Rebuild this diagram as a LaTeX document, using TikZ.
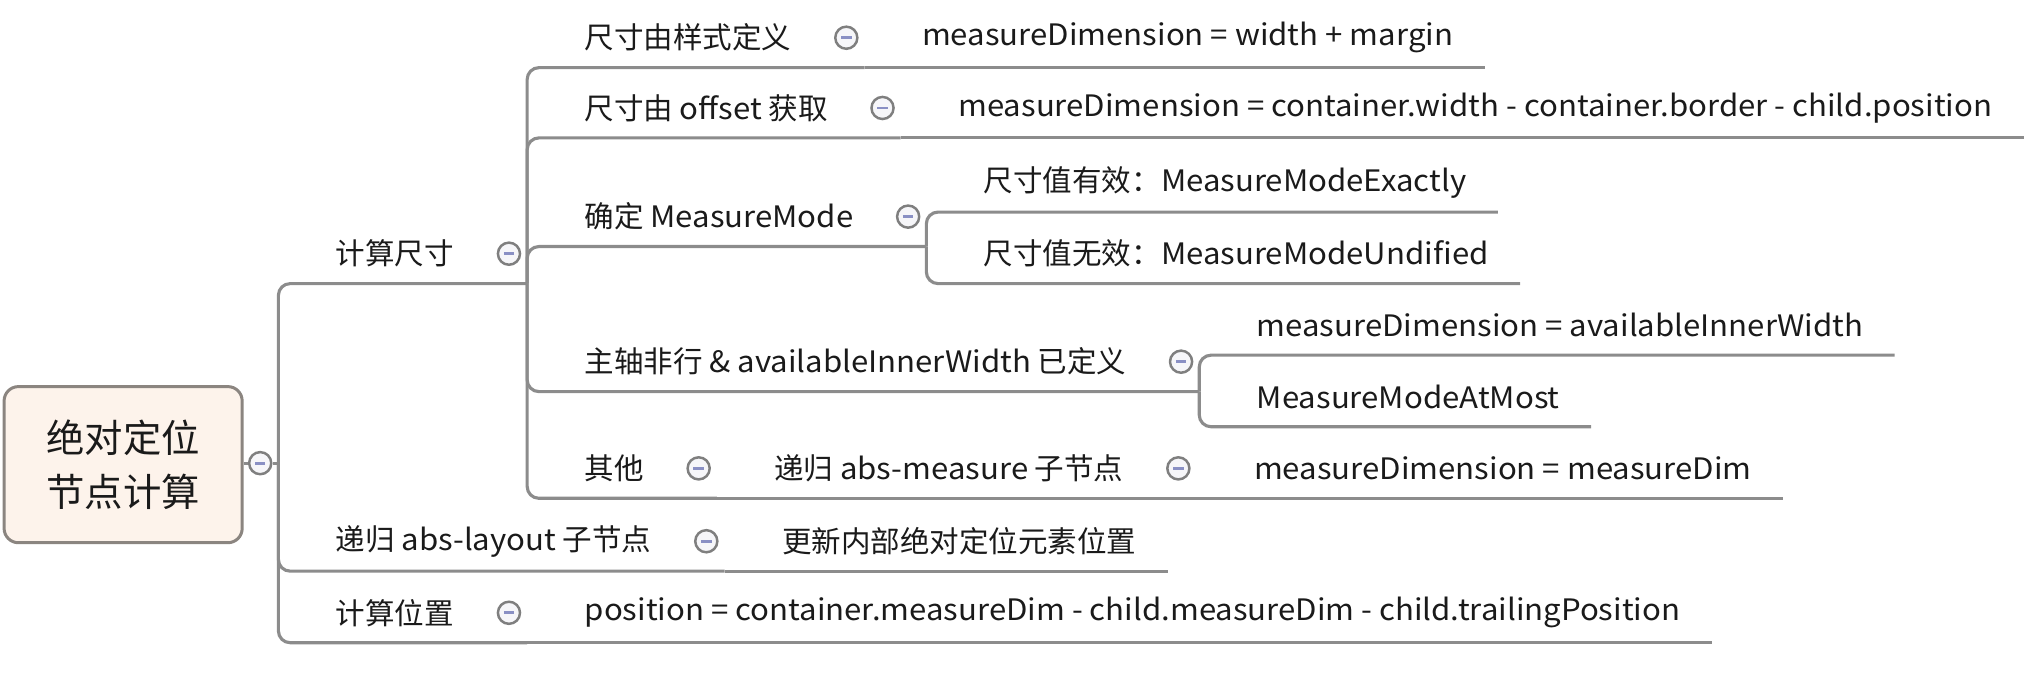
\documentclass[tikz,border=0pt]{standalone}
\usepackage{fontspec}
\setmainfont{Noto Sans CJK SC}
\newfontfamily\latfont{Noto Sans CJK SC}[FakeStretch=1.055]
\usetikzlibrary{calc}
\definecolor{linec}{HTML}{8C8C8C}
\definecolor{togc}{HTML}{7F7F7F}
\definecolor{togfill}{HTML}{F6F6F9}
\definecolor{minusc}{HTML}{8A90C4}
\definecolor{textc}{HTML}{1A1A1A}
\definecolor{rootf}{HTML}{FDF3EB}
\definecolor{rootb}{HTML}{8B8580}
\newcommand\togminus{{\color{minusc}\rule[-1.1pt]{8pt}{2.2pt}}}
\newcommand\lt[1]{{\latfont #1}}
\begin{document}
\begin{tikzpicture}[x=1pt,y=-1pt,
  txt/.style={anchor=west,inner sep=0pt,font=\fontsize{22.7}{26}\selectfont,text=textc},
  tog/.style={circle,draw=togc,line width=1.9pt,fill=togfill,minimum size=17pt,inner sep=0pt},
  br/.style={draw=linec,line width=2.4pt,rounded corners=9pt}]
\useasboundingbox (0,0) rectangle (1568,534);
% root
\node[draw=rootb, fill=rootf, line width=2.3pt, rounded corners=11pt, minimum width=183pt, minimum height=120pt, anchor=north west, align=center, font=\fontsize{29.5}{41.5}\selectfont, text=textc, inner sep=0pt] (root) at (2,296) {绝对定位\\节点计算};
\node[tog] (tr) at (200,356) {\togminus};
\coordinate (jr) at (214,356);
\draw[br] (root.east |- tr) -- (tr.west);
\draw[br] (tr.east) -- (jr);
% level 1
\node[txt] (a) at ($(jr |- 0,195)+(44,0)$) {计算尺寸};
\node[tog] (ta) at ($(a.east)+(42,0)$) {\togminus};
\coordinate (ja) at ($(a.east)+(56,23)$);
\draw[br] (jr) |- (ja);

\node[txt] (b) at ($(jr |- 0,416)+(44,0)$) {递归 \lt{abs-layout} 子节点};
\node[tog] (tb) at ($(b.east)+(42,0)$) {\togminus};
\coordinate (jb) at ($(b.east)+(56,23)$);
\draw[br] (jr) |- (jb);
\node[txt] (b1) at ($(jb)+(44,-23)$) {更新内部绝对定位元素位置};
\coordinate (eb1) at ($(b1.east)+(24,23)$);
\draw[br] (jb) -- (eb1);

\node[txt] (c) at ($(jr |- 0,471)+(44,0)$) {计算位置};
\node[tog] (tc) at ($(c.east)+(42,0)$) {\togminus};
\coordinate (jc) at ($(c.east)+(56,23)$);
\draw[br] (jr) |- (jc);
\node[txt] (c1) at ($(jc)+(44,-23)$) {\lt{position = container.measureDim - child.measureDim - child.trailingPosition}};
\coordinate (ec1) at ($(c1.east)+(24,23)$);
\draw[br] (jc) -- (ec1);
% level 2 under a
\node[txt] (a1) at ($(ja |- 0,29)+(44,0)$) {尺寸由样式定义};
\node[tog] (ta1) at ($(a1.east)+(42,0)$) {\togminus};
\coordinate (ja1) at ($(a1.east)+(56,23)$);
\draw[br] (ja) |- (ja1);
\node[txt] (a11) at ($(ja1)+(44,-23)$) {\lt{measureDimension = width + margin}};
\coordinate (ea11) at ($(a11.east)+(24,23)$);
\draw[br] (ja1) -- (ea11);

\node[txt] (a2) at ($(ja |- 0,83)+(44,0)$) {尺寸由 \lt{offset} 获取};
\node[tog] (ta2) at ($(a2.east)+(42,0)$) {\togminus};
\coordinate (ja2) at ($(a2.east)+(56,23)$);
\draw[br] (ja) |- (ja2);
\node[txt] (a21) at ($(ja2)+(44,-23)$) {\lt{measureDimension = container.width - container.border - child.position}};
\coordinate (ea21) at ($(a21.east)+(24,23)$);
\draw[br] (ja2) -- (ea21);

\node[txt] (a3) at ($(ja |- 0,166.5)+(44,0)$) {确定 \lt{MeasureMode}};
\node[tog] (ta3) at ($(a3.east)+(42,0)$) {\togminus};
\coordinate (ja3) at ($(a3.east)+(56,23)$);
\draw[br] (ja) |- (ja3);
\node[txt] (a31) at ($(ja3 |- 0,140)+(44,0)$) {尺寸值有效：\lt{MeasureModeExactly}};
\coordinate (ea31) at ($(a31.east)+(24,23)$);
\draw[br] (ja3) |- (ea31);
\node[txt] (a32) at ($(ja3 |- 0,195)+(44,0)$) {尺寸值无效：\lt{MeasureModeUndified}};
\coordinate (ea32) at ($(a32.east)+(24,23)$);
\draw[br] (ja3) |- (ea32);

\node[txt] (a4) at ($(ja |- 0,278)+(44,0)$) {主轴非行 \lt{\& availableInnerWidth} 已定义};
\node[tog] (ta4) at ($(a4.east)+(42,0)$) {\togminus};
\coordinate (ja4) at ($(a4.east)+(56,23)$);
\draw[br] (ja) |- (ja4);
\node[txt] (a41) at ($(ja4 |- 0,250)+(44,0)$) {\lt{measureDimension = availableInnerWidth}};
\coordinate (ea41) at ($(a41.east)+(24,23)$);
\draw[br] (ja4) |- (ea41);
\node[txt] (a42) at ($(ja4 |- 0,305)+(44,0)$) {\lt{MeasureModeAtMost}};
\coordinate (ea42) at ($(a42.east)+(24,23)$);
\draw[br] (ja4) |- (ea42);

\node[txt] (a5) at ($(ja |- 0,360)+(44,0)$) {其他};
\node[tog] (ta5) at ($(a5.east)+(42,0)$) {\togminus};
\coordinate (ja5) at ($(a5.east)+(56,23)$);
\draw[br] (ja) |- (ja5);
\node[txt] (a51) at ($(ja5)+(44,-23)$) {递归 \lt{abs-measure} 子节点};
\node[tog] (ta51) at ($(a51.east)+(42,0)$) {\togminus};
\coordinate (ja51) at ($(a51.east)+(56,23)$);
\draw[br] (ja5) -- (ja51);
\node[txt] (a511) at ($(ja51)+(44,-23)$) {\lt{measureDimension = measureDim}};
\coordinate (ea511) at ($(a511.east)+(24,23)$);
\draw[br] (ja51) -- (ea511);
\end{tikzpicture}
\end{document}
